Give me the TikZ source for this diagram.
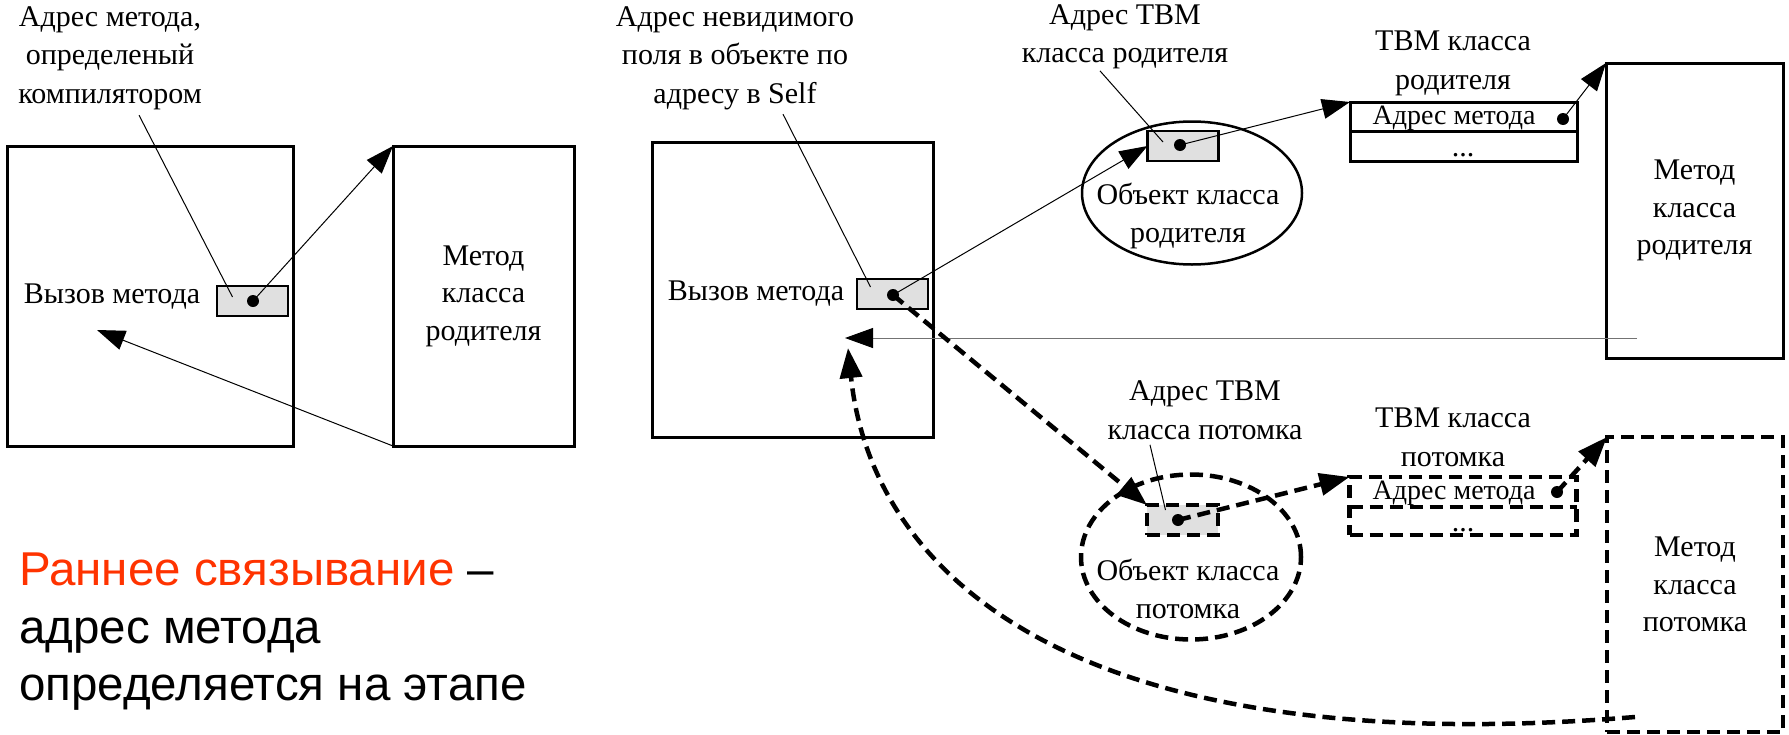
\documentclass[tikz,border=0pt]{standalone}
\usepackage{fontspec}
\setmainfont{Liberation Serif}
\newfontfamily\slidefont{Liberation Sans}
\usepackage{tikz}
\usetikzlibrary{shapes,arrows.meta,calc}
\usepackage{xcolor}
\definecolor{bindred}{HTML}{FF3300}
\definecolor{slotgray}{HTML}{E0E0E0}

\tikzset{
  boxtext/.style={font=\fontsize{30}{37.5}\selectfont},
  dashline/.style={line width=4.5pt,dash pattern=on 13pt off 7pt},
  frame/.style={draw,line width=3pt,inner sep=0pt,outer sep=0pt,align=center,boxtext},
  dframe/.style={frame,dashline},
  cell/.style={draw,line width=3pt,inner sep=0pt,outer sep=0pt,minimum width=227pt},
  dcell/.style={cell,dashline},
  slot/.style={draw,fill=slotgray,line width=2.5pt,minimum width=71pt,minimum height=30pt,inner sep=0pt,outer sep=0pt},
  dslot/.style={slot,dashline},
  objshape/.style={draw,ellipse,line width=2.5pt,inner sep=0pt,minimum width=220pt},
  pin/.style={circle,fill=black,inner sep=0pt,minimum size=12pt},
  note/.style={align=center,font=\fontsize{30}{38.5}\selectfont},
  lead/.style={line width=1pt},
  link/.style={line width=1pt,-{Triangle[length=28pt,width=20pt,color=black]}},
  dlink/.style={dashline,-{Triangle[length=30pt,width=22pt]}},
}

\begin{document}
\begin{tikzpicture}[x=1pt,y=-1pt]
        \useasboundingbox (0,0) rectangle (1789,734);

        % early binding
        \node[frame,minimum width=286pt,minimum height=300pt] (callA) at (150,296) {};
        \node[boxtext] (callAtxt) at (112,297) {Вызов метода};
        \node[slot] (slotA) at (252.5,301) {};
        \node[pin] (pinA) at (253,301) {};
        \node[frame,minimum width=181pt,minimum height=300pt] (methA) at (483.5,296) {Метод\\класса\\родителя};
        \node[note] (noteA) at (110,58) {Адрес метода,\\определеный\\компилятором};
        \coordinate (backA) at (97,330);
        \draw[lead] ($(noteA.south)+(29,2)$) -- ($(slotA.center)+(-20,-4)$);
        \draw[link] (pinA.center) -- (methA.north west);
        \draw[link] (methA.south west) -- (backA);

        % late binding: caller
        \node[frame,minimum width=281pt,minimum height=295pt] (callB) at (792.5,289.5) {};
        \node[boxtext] (callBtxt) at (756,294) {Вызов метода};
        \node[slot] (slotB) at (892.5,294) {};
        \node[pin] (pinB) at (893,295) {};
        \node[note] (noteB) at (735,58) {Адрес невидимого\\поля в объекте по\\адресу в Self};
        \draw[lead] ($(noteB.south)+(48,1)$) -- ($(slotB.center)+(-22,-7)$);

        % parent object, VMT and method
        \node[objshape,minimum height=143pt] (objP) at (1192,193) {};
        \node[boxtext,align=center] (objPtxt) at (1188,216) {Объект класса\\родителя};
        \node[slot] (slotP) at (1183,146) {};
        \node[pin] (pinP) at (1180,145) {};
        \node[note] (noteP) at (1125,37) {Адрес ТВМ\\класса родителя};
        \draw[lead] ($(noteP.south)+(-25,-2)$) -- ($(slotP.center)+(-20,-4)$);
        \node[cell,minimum height=59pt] (vmtP) at (1463.5,131.5) {};
        \coordinate (vmtPsep) at (1463.5,131);
        \draw[line width=3pt] (vmtP.west |- vmtPsep) -- (vmtP.east |- vmtPsep);
        \node[font=\fontsize{28}{34}\selectfont] (vmtPtxt) at (1454,118) {Адрес метода};
        \node[boxtext,anchor=base] (vmtPdots) at (1463,156) {...};
        \node[pin] (pinPv) at (1563,119) {};
        \node[note] (vmtPlbl) at (1453,63.5) {ТВМ класса\\родителя};
        \node[frame,minimum width=177pt,minimum height=295pt] (methP) at (1694.5,210.5) {Метод\\класса\\родителя};
        \coordinate (retB) at (1637,338);
        \coordinate (backB) at (845,338);
        \draw[link] (pinB.center) -- (slotP.west);
        \draw[link] (pinP.center) -- (vmtP.north west);
        \draw[link] (pinPv.center) -- (methP.north west);
        \draw[link,black!55] (retB) -- (backB);

        % child object, VMT and method
        \node[objshape,dashline,minimum height=165pt] (objC) at (1191,557) {};
        \node[boxtext,align=center] (objCtxt) at (1188,589) {Объект класса\\потомка};
        \node[dslot] (slotC) at (1182.5,520) {};
        \node[pin] (pinC) at (1178,520) {};
        \node[note] (noteC) at (1205,410) {Адрес ТВМ\\класса потомка};
        \draw[lead] ($(noteC.south)+(-55,2)$) -- ($(slotC.center)+(-17,-10)$);
        \node[dcell,minimum height=58pt] (vmtC) at (1463,506) {};
        \coordinate (vmtCsep) at (1463,507);
        \draw[dashline] (vmtC.west |- vmtCsep) -- (vmtC.east |- vmtCsep);
        \node[font=\fontsize{28}{34}\selectfont] (vmtCtxt) at (1454,493) {Адрес метода};
        \node[boxtext,anchor=base] (vmtCdots) at (1463,531) {...};
        \node[pin] (pinCv) at (1557,492) {};
        \node[note] (vmtClbl) at (1453,437.5) {ТВМ класса\\потомка};
        \node[dframe,minimum width=176pt,minimum height=295pt] (methC) at (1695,584.5) {Метод\\класса\\потомка};
        \coordinate (retC) at (1635,717);
        \coordinate (backC) at (848,348);
        \draw[dlink] (pinB.center) -- (slotC.north west);
        \draw[dlink] (pinC.center) -- (vmtC.north west);
        \draw[dlink] (pinCv.center) -- (methC.north west);
        \draw[dlink] (retC) .. controls (1050,765) and (870,560) .. (backC);

        \node[anchor=north west,align=left,inner sep=0pt,font=\slidefont\fontsize{47.5}{57.5}\selectfont] (early) at (19,553)
          {\textcolor{bindred}{Раннее связывание} –\\адрес метода\\определяется на этапе};
      \end{tikzpicture}
\end{document}
